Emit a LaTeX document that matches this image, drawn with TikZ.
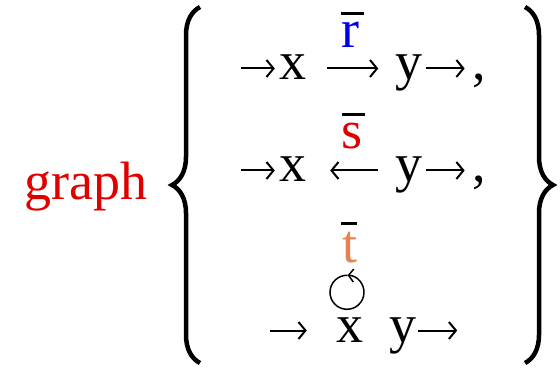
\documentclass[tikz,border=0pt]{standalone}
\usepackage{fontspec}
\setmainfont{Liberation Serif}
\usetikzlibrary{arrows.meta,decorations.pathreplacing}
\definecolor{lblblue}{RGB}{0,0,230}
\definecolor{lblred}{RGB}{225,0,0}
\definecolor{lblorange}{RGB}{232,128,80}

\begin{document}
\begin{tikzpicture}[x=1pt, y=1pt,
  txt/.style={inner sep=0pt, font=\fontsize{54}{64}\selectfont},
  var/.style={txt, anchor=base, text height=23pt, text depth=0pt},
  lbl/.style={txt, anchor=base},
  conn/.style={line width=2pt, -{Straight Barb[length=7pt,width=17pt]}},
  bar/.style={line width=3pt},
  curly/.style={decorate, decoration={brace, amplitude=28pt}, line width=4.5pt}]
  \useasboundingbox (0,0) rectangle (560,370);

  % name of the set
  \node[lbl, text=lblred] (g) at (86,170) {graph};
  \draw[curly] (200,7) -- (200,363);
  \draw[curly] (525,363) -- (525,7);

  % first element
  \node[var] (x1) at (292.5,290) {x};
  \node[var] (y1) at (409,290) {y};
  \coordinate (in1) at ([xshift=-38pt]x1.west);
  \coordinate (out1) at ([xshift=42pt]y1.east);
  \node[lbl, text=lblblue] (r) at (350,322) {r};
  \node[lbl] (c1) at (479,290) {,};
  \draw[bar] ([yshift=9pt]r.north west) -- ([xshift=5pt, yshift=9pt]r.north east);
  \draw[conn] (in1) -- ([xshift=-4pt]x1.west);
  \draw[conn] ([xshift=21pt]x1.east) -- ([xshift=-17pt]y1.west);
  \draw[conn] ([xshift=3pt]y1.east) -- (out1);

  % second element
  \node[var] (x2) at (292.5,188) {x};
  \node[var] (y2) at (409,188) {y};
  \coordinate (in2) at ([xshift=-38pt]x2.west);
  \coordinate (out2) at ([xshift=42pt]y2.east);
  \node[lbl, text=lblred] (s) at (352.5,221) {s};
  \node[lbl] (c2) at (479,188) {,};
  \draw[bar] ([yshift=9pt]s.north west) -- ([xshift=2pt, yshift=9pt]s.north east);
  \draw[conn] (in2) -- ([xshift=-4pt]x2.west);
  \draw[conn] ([xshift=-17pt]y2.west) -- ([xshift=24pt]x2.east);
  \draw[conn] ([xshift=3pt]y2.east) -- (out2);

  % third element, with the loop on x
  \node[var] (x3) at (349.5,28) {x};
  \node[var] (y3) at (402.5,28) {y};
  \coordinate (in3) at ([xshift=-66pt]x3.west);
  \coordinate (out3) at ([xshift=41pt]y3.east);
  \node[lbl, text=lblorange] (t) at (349.5,107) {t};
  \draw[bar] ([xshift=-1pt, yshift=9pt]t.north west) -- ([yshift=9pt]t.north east);
  \draw[conn] (in3) -- ([xshift=-29pt]x3.west);
  \draw[conn] ([xshift=2pt]y3.east) -- (out3);
  \coordinate (loop3) at ([shift={(-2.5pt,26.5pt)}]x3.north);
  \draw[line width=1.5pt, -{Straight Barb[length=5pt,width=13pt]}]
    ([shift={(88:17pt)}]loop3) arc[start angle=88, end angle=448, radius=17pt];
\end{tikzpicture}
\end{document}
